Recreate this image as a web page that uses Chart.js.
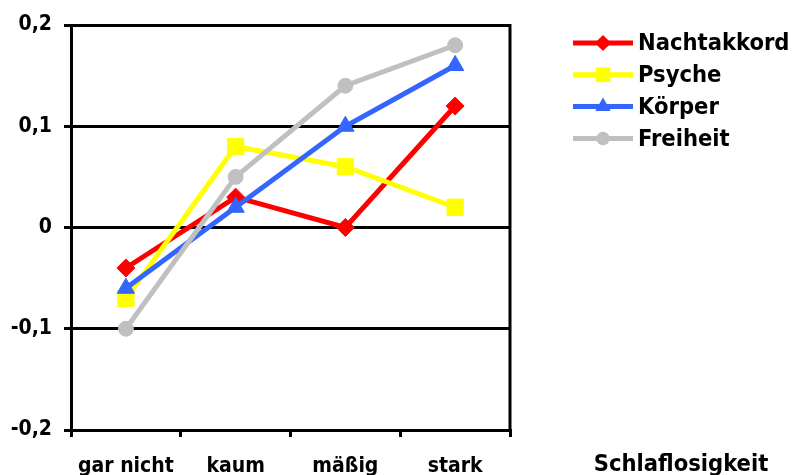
<!DOCTYPE html>
<html>
<head>
<meta charset="utf-8">
<script src="https://cdn.jsdelivr.net/npm/chart.js@4/dist/chart.umd.min.js"></script>
<style>
  html, body { margin: 0; padding: 0; background: #ffffff; }
  #wrap { width: 795px; height: 475px; }
</style>
</head>
<body>
<div id="wrap"><canvas id="chart" width="795" height="475"></canvas></div>
<script>
// Categories (x axis) and series values
const categories = ['gar nicht', 'kaum', 'mäßig', 'stark'];
const nachtakkord = [-0.04, 0.03, 0.00, 0.12];
const psyche      = [-0.07, 0.08, 0.06, 0.02];
const koerper     = [-0.06, 0.02, 0.10, 0.16];
const freiheit    = [-0.10, 0.05, 0.14, 0.18];

// Value axis ticks and their labels
const yTickValues = [-0.2, -0.1, 0, 0.1, 0.2];
const yTickLabels = ['-0,2', '-0,1', '0', '0,1', '0,2'];

const xAxisTitle = 'Schlaflosigkeit';

const FONT_FAMILY = '"DejaVu Sans Condensed", "DejaVu Sans", sans-serif';
const LEGEND_SIZE = 23.5;
const XTICK_SIZE = 21;
const YTICK_SIZE = 21;

function series(label, data, color, pointStyle, radius, order) {
  return {
    label, data, order,
    borderColor: color,
    backgroundColor: color,
    borderWidth: 5,
    pointStyle,
    pointRadius: radius,
    pointHoverRadius: radius,
    pointBorderWidth: 1,
    pointBorderColor: color,
    pointBackgroundColor: color,
    tension: 0,
    fill: false
  };
}

const datasets = [
  series('Nachtakkord', nachtakkord, '#ff0000', 'rectRot', 9, 3),
  series('Psyche', psyche, '#ffff00', 'rect', 11.5, 2),
  series('Körper', koerper, '#3366ff', 'triangle', 10, 1),
  series('Freiheit', freiheit, '#c0c0c0', 'circle', 7.5, 0)
];

// Marker painter for the legend swatches
function paintMarker(ctx, style, x, y, r, color) {
  ctx.save();
  ctx.fillStyle = color;
  ctx.beginPath();
  if (style === 'rectRot') {
    ctx.moveTo(x, y - r); ctx.lineTo(x + r, y); ctx.lineTo(x, y + r); ctx.lineTo(x - r, y);
    ctx.closePath();
  } else if (style === 'rect') {
    const s = r * Math.SQRT1_2;
    ctx.rect(x - s, y - s, 2 * s, 2 * s);
  } else if (style === 'triangle') {
    for (let k = 0; k < 3; k++) {
      const a = k * 2 * Math.PI / 3;
      const px = x + Math.sin(a) * r, py = y - Math.cos(a) * r;
      k === 0 ? ctx.moveTo(px, py) : ctx.lineTo(px, py);
    }
    ctx.closePath();
  } else {
    ctx.arc(x, y, r, 0, Math.PI * 2);
  }
  ctx.fill();
  ctx.restore();
}

const sidePanel = {
  id: 'sidePanel',
  afterDraw(chart) {
    const { ctx, chartArea, scales } = chart;
    ctx.save();
    // right frame line of the plot area
    ctx.strokeStyle = '#000';
    ctx.lineWidth = 3;
    ctx.beginPath();
    ctx.moveTo(chartArea.right, chartArea.top - 1);
    ctx.lineTo(chartArea.right, chartArea.bottom + 1);
    ctx.stroke();

    // legend
    ctx.font = 'bold ' + LEGEND_SIZE + 'px ' + FONT_FAMILY;
    ctx.textBaseline = 'middle';
    ctx.textAlign = 'left';
    const lx0 = chartArea.right + 63, lx1 = chartArea.right + 123;
    chart.data.datasets.forEach((ds, i) => {
      const y = chartArea.top + 18 + i * 31.8;
      ctx.strokeStyle = ds.borderColor;
      ctx.lineWidth = 5;
      ctx.beginPath();
      ctx.moveTo(lx0, y);
      ctx.lineTo(lx1, y);
      ctx.stroke();
      paintMarker(ctx, ds.pointStyle, (lx0 + lx1) / 2, y, ds.pointRadius * 0.9, ds.borderColor);
      ctx.fillStyle = '#000';
      ctx.fillText(ds.label, lx1 + 5, y + 1);
    });

    // axis title, level with the category labels
    ctx.textAlign = 'center';
    ctx.textBaseline = 'alphabetic';
    ctx.fillText(xAxisTitle, chartArea.right + 171, scales.x.top + 41);
    ctx.restore();
  }
};

new Chart(document.getElementById('chart'), {
  type: 'line',
  data: { labels: categories, datasets },
  options: {
    responsive: false,
    animation: false,
    devicePixelRatio: 1,
    layout: { padding: { top: 25, right: 285, left: 0, bottom: 0 } },
    plugins: { legend: { display: false }, tooltip: { enabled: false } },
    scales: {
      x: {
        offset: true,
        afterFit(scale) { scale.height = 45; },
        grid: {
          offset: true,
          drawOnChartArea: false,
          drawTicks: true,
          tickLength: 7,
          color: '#000',
          lineWidth: 3
        },
        border: { display: true, color: '#000', width: 3 },
        ticks: {
          color: '#000',
          padding: 17,
          maxRotation: 0,
          font: { family: FONT_FAMILY, size: XTICK_SIZE, weight: 'bold' }
        }
      },
      y: {
        min: -0.2,
        max: 0.2,
        afterFit(scale) { scale.width = 71; },
        afterBuildTicks(scale) { scale.ticks = yTickValues.map(v => ({ value: v })); },
        grid: {
          color: '#000',
          lineWidth: 3,
          drawTicks: true,
          tickLength: 7
        },
        border: { display: true, color: '#000', width: 3 },
        ticks: {
          color: '#000',
          padding: 12,
          font: { family: FONT_FAMILY, size: YTICK_SIZE, weight: 'bold' },
          callback: (value, index) => yTickLabels[index]
        }
      }
    }
  },
  plugins: [sidePanel]
});
</script>
</body>
</html>
